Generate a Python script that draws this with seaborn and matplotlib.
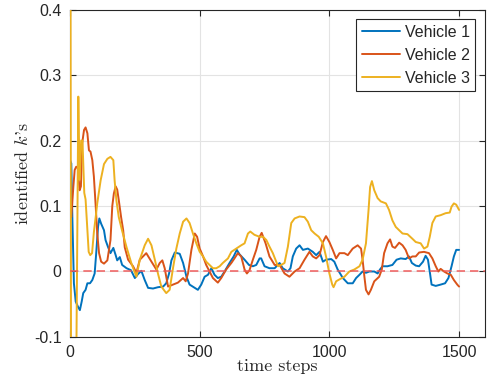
import numpy as np
import pandas as pd
import matplotlib
matplotlib.use('Agg')
import matplotlib.pyplot as plt
import seaborn as sns

# values (time step, identified k)
t1 = [0, 5, 9, 15, 22, 31, 38, 45, 51, 60, 67, 77, 86, 95, 101, 108, 113, 120, 131, 137,
      146, 156, 167, 176, 182, 192, 201, 218, 235, 250, 262, 275, 288, 301, 320, 339, 359, 371, 382, 391,
      404, 423, 436, 449, 461, 481, 493, 506, 519, 532, 545, 557, 570, 583, 596, 615, 631, 643, 654, 673,
      690, 705, 718, 731, 737, 750, 769, 789, 808, 820, 840, 850, 859, 872, 885, 898, 917, 936, 949, 962,
      975, 987, 1007, 1019, 1032, 1052, 1071, 1090, 1103, 1116, 1128, 1141, 1154, 1173, 1186, 1195, 1205, 1224, 1243, 1259,
      1275, 1294, 1307, 1318, 1333, 1346, 1361, 1371, 1380, 1388, 1394, 1410, 1429, 1446, 1459, 1471, 1480, 1489, 1500]
k1 = [0.17, 0.165, 0.083, -0.018, -0.046, -0.054, -0.059, -0.046, -0.033, -0.028, -0.018, -0.018, -0.013, -0.003, 0.028, 0.068, 0.081, 0.073, 0.063, 0.048,
      0.038, 0.028, 0.036, 0.025, 0.017, 0.022, 0.01, 0.005, 0.002, -0.01, -0.004, 0.001, -0.013, -0.025, -0.026, -0.024, -0.023, -0.018, -0.003, 0.017,
      0.029, 0.027, 0.013, -0.008, -0.02, -0.025, -0.028, -0.02, -0.008, -0.005, 0.005, -0.005, -0.01, -0.008, 0.0, 0.013, 0.023, 0.033, 0.026, 0.018,
      0.01, 0.008, 0.01, 0.02, 0.02, 0.008, 0.005, 0.005, 0.013, 0.005, 0.0, 0.005, 0.023, 0.035, 0.04, 0.033, 0.035, 0.03, 0.025, 0.03,
      0.015, 0.018, 0.019, 0.015, 0.003, -0.01, -0.018, -0.018, -0.01, -0.005, 0.0, -0.002, 0.0, 0.0, -0.003, 0.003, 0.008, 0.008, 0.01, 0.018,
      0.02, 0.019, 0.023, 0.013, 0.009, 0.008, 0.015, 0.024, 0.018, -0.003, -0.02, -0.022, -0.02, -0.018, -0.01, 0.008, 0.023, 0.033, 0.033]

t2 = [0, 5, 13, 18, 24, 30, 37, 42, 47, 54, 60, 67, 73, 79, 86, 92, 99, 105, 112, 120,
      131, 144, 156, 163, 169, 176, 182, 188, 197, 205, 211, 224, 243, 256, 269, 294, 314, 333, 346, 356,
      365, 378, 397, 416, 436, 446, 455, 468, 481, 490, 500, 513, 525, 538, 551, 570, 583, 602, 622, 634,
      647, 660, 673, 682, 692, 705, 718, 731, 739, 754, 769, 789, 808, 827, 846, 866, 885, 904, 923, 936,
      949, 962, 975, 987, 1000, 1013, 1026, 1039, 1058, 1071, 1090, 1109, 1122, 1128, 1135, 1141, 1151, 1160, 1173, 1192,
      1202, 1211, 1224, 1234, 1243, 1253, 1269, 1282, 1294, 1307, 1320, 1333, 1346, 1365, 1384, 1397, 1410, 1420, 1429, 1442,
      1455, 1468, 1480, 1493, 1500]
k2 = [0.09, 0.083, 0.13, 0.155, 0.16, 0.158, 0.124, 0.13, 0.196, 0.216, 0.22, 0.211, 0.185, 0.183, 0.17, 0.145, 0.1, 0.058, 0.028, 0.015,
      0.012, 0.017, 0.048, 0.1, 0.119, 0.13, 0.125, 0.109, 0.083, 0.063, 0.037, 0.018, 0.008, -0.002, 0.018, 0.028, 0.015, 0.003, 0.013, 0.017,
      0.005, -0.023, -0.02, -0.017, -0.01, -0.015, -0.003, 0.033, 0.058, 0.053, 0.035, 0.023, 0.01, 0.0, -0.01, -0.017, -0.01, 0.003, 0.013, 0.02,
      0.028, 0.023, 0.003, -0.003, 0.002, 0.018, 0.033, 0.053, 0.059, 0.043, 0.023, 0.01, 0.01, -0.003, -0.008, 0.0, 0.005, 0.018, 0.03, 0.023,
      0.02, 0.025, 0.045, 0.054, 0.045, 0.033, 0.02, 0.028, 0.028, 0.025, 0.035, 0.04, 0.035, 0.018, -0.008, -0.028, -0.035, -0.028, -0.015, -0.008,
      0.003, 0.028, 0.043, 0.049, 0.038, 0.036, 0.044, 0.04, 0.033, 0.02, 0.023, 0.023, 0.029, 0.03, 0.028, 0.02, 0.008, 0.0, 0.004, 0.0,
      -0.003, -0.005, -0.013, -0.02, -0.023]

t3 = [2, 4, 24, 28, 32, 37, 43, 48, 55, 60, 66, 72, 78, 85, 92, 99, 105, 118, 131, 144,
      156, 167, 172, 179, 188, 201, 218, 237, 256, 269, 288, 301, 314, 327, 339, 352, 371, 384, 397, 410,
      423, 436, 449, 461, 474, 487, 500, 513, 525, 538, 551, 564, 577, 589, 609, 622, 641, 660, 673, 686,
      695, 711, 731, 744, 757, 769, 782, 795, 802, 814, 827, 840, 853, 866, 885, 904, 917, 930, 943, 959,
      975, 987, 1000, 1011, 1016, 1026, 1039, 1058, 1077, 1096, 1116, 1128, 1141, 1151, 1157, 1164, 1173, 1186, 1198, 1218,
      1230, 1243, 1256, 1269, 1282, 1301, 1320, 1333, 1352, 1365, 1378, 1387, 1397, 1410, 1429, 1448, 1464, 1471, 1480, 1489,
      1500]
k3 = [0.45, -0.15, -0.15, 0.05, 0.267, 0.14, 0.2, 0.2, 0.12, 0.11, 0.07, 0.03, 0.025, 0.028, 0.06, 0.083, 0.104, 0.139, 0.164, 0.172,
      0.175, 0.17, 0.139, 0.108, 0.083, 0.062, 0.037, 0.012, -0.008, 0.018, 0.04, 0.05, 0.04, 0.018, -0.003, -0.023, -0.033, -0.028, 0.005, 0.035,
      0.058, 0.076, 0.081, 0.074, 0.058, 0.043, 0.03, 0.023, 0.015, 0.01, 0.005, 0.005, 0.008, 0.013, 0.02, 0.03, 0.035, 0.04, 0.043, 0.058,
      0.061, 0.056, 0.053, 0.053, 0.048, 0.038, 0.028, 0.015, 0.008, 0.01, 0.013, 0.038, 0.074, 0.081, 0.084, 0.083, 0.076, 0.063, 0.058, 0.053,
      0.043, 0.023, -0.003, -0.02, -0.024, -0.015, -0.012, -0.008, 0.0, 0.003, 0.008, 0.018, 0.043, 0.094, 0.129, 0.138, 0.124, 0.112, 0.107, 0.104,
      0.094, 0.078, 0.068, 0.063, 0.058, 0.057, 0.05, 0.045, 0.043, 0.035, 0.038, 0.053, 0.074, 0.084, 0.086, 0.089, 0.09, 0.099, 0.104, 0.102,
      0.094]

vehicles = ['Vehicle 1', 'Vehicle 2', 'Vehicle 3']
colors = ['#0072BD', '#D95319', '#EDB120']

df = pd.concat([
    pd.DataFrame({'t': t1, 'k': k1, 'vehicle': vehicles[0]}),
    pd.DataFrame({'t': t2, 'k': k2, 'vehicle': vehicles[1]}),
    pd.DataFrame({'t': t3, 'k': k3, 'vehicle': vehicles[2]}),
], ignore_index=True)

sns.set_theme(style='whitegrid')
plt.rcParams['font.family'] = ['Liberation Sans', 'DejaVu Sans']
plt.rcParams['mathtext.fontset'] = 'cm'

fig = plt.figure(figsize=(4.92, 3.85), dpi=100)
ax = fig.add_axes([0.1423, 0.1247, 0.8435, 0.8506])

sns.lineplot(data=df, x='t', y='k', hue='vehicle', palette=colors, estimator=None,
             sort=False, linewidth=1.4, ax=ax, zorder=3)

# zero reference line
ax.axhline(0, color='#f05a5a', lw=1.2, ls=(0, (5, 3)), alpha=0.9, zorder=5)

ax.set_xlim(0, 1600)
ax.set_ylim(-0.1, 0.4)
ax.set_xticks([0, 500, 1000, 1500])
ax.set_yticks([-0.1, 0, 0.1, 0.2, 0.3, 0.4])
ax.set_yticklabels(['-0.1', '0', '0.1', '0.2', '0.3', '0.4'])

ax.grid(True, color='#e3e3e3', lw=0.8)
for s in ax.spines.values():
    s.set_color('#262626')
    s.set_linewidth(0.8)
ax.tick_params(direction='in', length=4, width=0.8, colors='#262626', labelsize=11.5,
               top=True, right=True, bottom=True, left=True, pad=6)

# LaTeX-like labels: Computer Modern text with italic k
ax.set_xlabel('time steps', family='cmr10', fontsize=13, labelpad=-1)
ax.set_ylabel("identified $k$'s", family='cmr10', fontsize=13, labelpad=2)

leg = ax.legend(loc='upper right', fontsize=11.5, frameon=True, fancybox=False,
                edgecolor='#262626', framealpha=1, borderaxespad=0.6,
                handlelength=2.4, handletextpad=0.3, labelspacing=0.5, borderpad=0.35)
leg.get_frame().set_linewidth(0.8)
leg.set_title(None)

fig.savefig('out.png', dpi=100)
